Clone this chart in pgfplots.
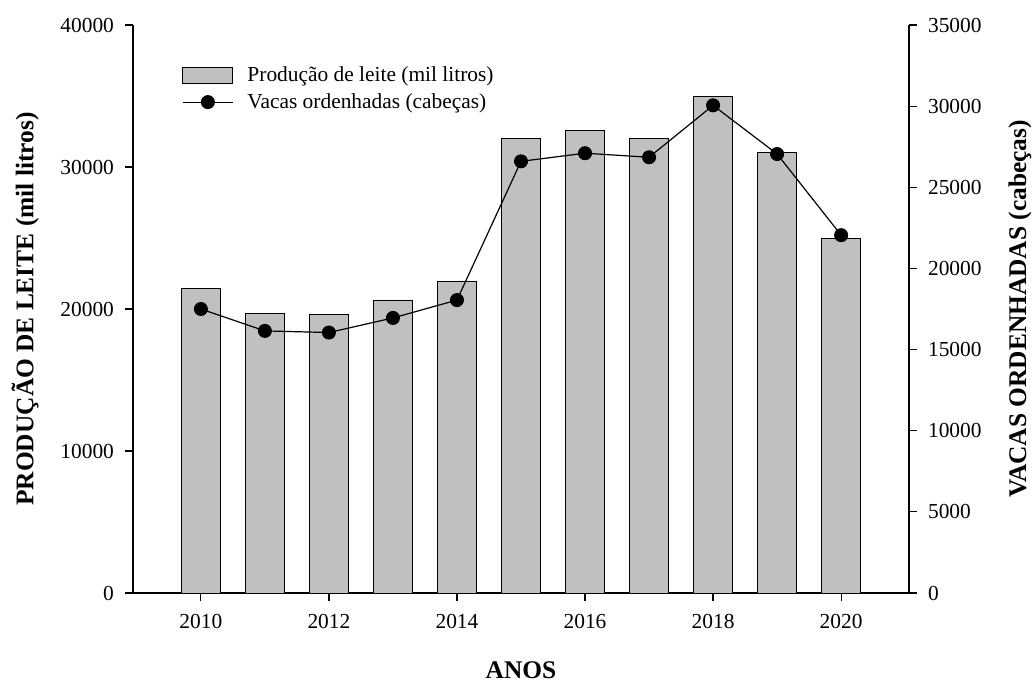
\documentclass[border=0pt]{standalone}
\usepackage{fontspec}
\setmainfont{Liberation Serif}
\usepackage{pgfplots}
\usepackage{pgfplotstable}
\pgfplotsset{compat=1.18}
\definecolor{barfill}{HTML}{C0C0C0}

% Produção anual de leite (mil litros) e vacas ordenhadas (cabeças)
\pgfplotstableread{
ano  leite  vacas
2010 21450 17500
2011 19700 16150
2012 19600 16050
2013 20600 16950
2014 21950 18050
2015 32000 26600
2016 32550 27100
2017 32000 26850
2018 35000 30050
2019 31000 27050
2020 25000 22050
}\dados

\pgfplotsset{
  common/.style={
    scale only axis, width=388pt, height=284pt,
    xmin=2008.94, xmax=2021.06,
    tick align=outside, major tick length=4pt,
    tick style={black, line width=0.6pt},
    axis line style={line width=0.65pt},
    ticklabel style={font=\fontsize{10.7}{12}\selectfont},
    label style={font=\fontsize{12.7}{14}\selectfont\bfseries},
    scaled y ticks=false,
    /pgf/number format/1000 sep={},
    /pgf/number format/assume math mode=true,
  },
  boxlegend/.style={legend image code/.code={%
    \draw[##1] (0pt,-4pt) rectangle (25pt,4pt);}},
  linelegend/.style={legend image code/.code={%
    \draw[##1, mark repeat=2, mark phase=2]
      plot coordinates {(0pt,0pt) (12.5pt,0pt) (25pt,0pt)};}},
}

\begin{document}
\begin{tikzpicture}
\begin{axis}[
  common,
  axis y line*=left, axis x line*=bottom,
  ymin=0, ymax=40000, ytick={0,10000,...,40000},
  xtick={2010,2012,...,2020},
  bar width=0.6,
  yticklabel style={xshift=-2pt},
  xticklabel style={yshift=-3pt},
  ylabel={PRODUÇÃO DE LEITE (mil litros)},
  ylabel style={at={(axis description cs:-0.139,0.5)}, anchor=center},
  xlabel={ANOS},
  xlabel style={at={(axis description cs:0.5,0)}, yshift=-38.5pt, anchor=center},
  legend style={draw=none, fill=none, at={(axis description cs:0.063,0.935)},
    anchor=north west, inner sep=0pt, row sep=0.5pt, column sep=5pt,
    font=\fontsize{10.7}{12}\selectfont},
  legend cell align=left,
]
\addplot[ybar, fill=barfill, draw=black, line width=0.5pt, boxlegend]
  table[x=ano, y=leite] {\dados};
\addlegendentry{Produção de leite (mil litros)}
\addlegendimage{black, line width=0.6pt, mark=*, mark size=3.2pt, linelegend}
\addlegendentry{Vacas ordenhadas (cabeças)}
\end{axis}
\begin{axis}[
  common,
  axis y line*=right, axis x line=none,
  ymin=0, ymax=35000, ytick={0,5000,...,35000},
  yticklabel style={xshift=2pt},
  ylabel={VACAS ORDENHADAS (cabeças)},
  ylabel style={at={(axis description cs:1.143,0.5)}, anchor=center},
]
\addplot[black, line width=0.6pt, mark=*, mark size=3.2pt]
  table[x=ano, y=vacas] {\dados};
\end{axis}
\pgfresetboundingbox
\path (-66.5pt,-44.5pt) rectangle (450.5pt,296.5pt);
\end{tikzpicture}
\end{document}
